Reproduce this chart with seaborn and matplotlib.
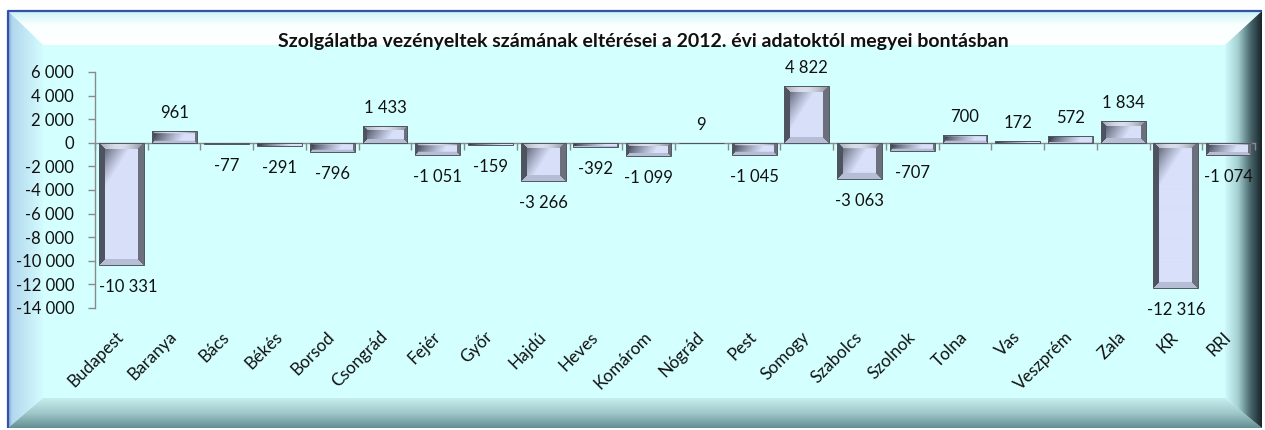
import numpy as np
import pandas as pd
import matplotlib
matplotlib.use("Agg")
import matplotlib.pyplot as plt
import seaborn as sns
from matplotlib.patches import Polygon, Rectangle
from matplotlib.ticker import FuncFormatter

# --- data ---------------------------------------------------------------
counties = ["Budapest", "Baranya", "Bács", "Békés", "Borsod", "Csongrád",
            "Fejér", "Győr", "Hajdú", "Heves", "Komárom", "Nógrád", "Pest",
            "Somogy", "Szabolcs", "Szolnok", "Tolna", "Vas", "Veszprém",
            "Zala", "KR", "RRI"]
differences = [-10331, 961, -77, -291, -796, 1433, -1051, -159, -3266, -392,
               -1099, 9, -1045, 4822, -3063, -707, 700, 172, 572, 1834,
               -12316, -1074]
y_ticks = [-14000, -12000, -10000, -8000, -6000, -4000, -2000, 0,
           2000, 4000, 6000]
title = ("Szolgálatba vezényeltek számának eltérései a 2012. évi adatoktól "
         "megyei bontásban")

df = pd.DataFrame({"megye": counties, "elteres": differences})


def fmt(v):
    return f"{int(v):,}".replace(",", " ")


sns.set_theme(style="white")
plt.rcParams["font.family"] = ["Lato", "DejaVu Sans"]

W, H = 1265, 430
fig = plt.figure(figsize=(W / 100, H / 100), dpi=100)
fig.patch.set_facecolor("white")

# --- bevelled frame drawn in pixel coordinates ---------------------------
bg = fig.add_axes([0, 0, 1, 1], zorder=0)
bg.axis("off")


def gradient_poly(axis, pts, stops, direction, extent):
    poly = Polygon(pts, closed=True, facecolor="none", edgecolor="none")
    axis.add_patch(poly)
    t = np.linspace(0, 1, 256)
    pos = [s[0] for s in stops]
    cols = np.stack([np.interp(t, pos, [s[1][k] for s in stops])
                     for k in range(3)], axis=-1) / 255.0
    img = cols[:, None, :] if direction == "v" else cols[None, :, :]
    im = axis.imshow(img, extent=extent, origin="upper", aspect="auto",
                     interpolation="bilinear", zorder=2)
    im.set_clip_path(poly)


ox0, oy0, ox1, oy1 = 8, 11, 1262, 428
ix0, iy0, ix1, iy1 = 43, 45, 1225, 398

bg.add_patch(Rectangle((ox0, oy0), ox1 - ox0, oy1 - oy0,
                       facecolor="#D4FFFF", edgecolor="none", zorder=1))
# top
gradient_poly(bg, [(ox0, oy0), (ox1, oy0), (ix1, iy0), (ix0, iy0)],
              [(0, (200, 242, 244)), (0.4, (250, 255, 255)), (1, (255, 255, 255))],
              "v", (ox0, ox1, iy0, oy0))
# left
gradient_poly(bg, [(ox0, oy0), (ix0, iy0), (ix0, iy1), (ox0, oy1)],
              [(0, (125, 165, 218)), (0.12, (178, 216, 238)), (1, (212, 252, 254))],
              "h", (ox0, ix0, oy1, oy0))
# bottom
gradient_poly(bg, [(ox0, oy1), (ix0, iy1), (ix1, iy1), (ox1, oy1)],
              [(0, (198, 238, 238)), (0.5, (160, 200, 202)), (1, (100, 142, 146))],
              "v", (ox0, ox1, oy1, iy1))
# right
gradient_poly(bg, [(ox1, oy0), (ix1, iy0), (ix1, iy1), (ox1, oy1)],
              [(0, (208, 250, 252)), (0.35, (165, 208, 210)), (0.7, (70, 100, 106)),
               (1, (24, 36, 40))],
              "h", (ix1, ox1, oy1, oy0))
bg.plot([ox0, ox0, ox1], [oy1, oy0, oy0], color="#3550A8", lw=1.6,
        solid_capstyle="butt", zorder=3)
bg.set_xlim(0, W)
bg.set_ylim(H, 0)

# --- bar chart ----------------------------------------------------------
ax = fig.add_axes([95 / W, 1 - 308 / H, (1255 - 95) / W, (308 - 72) / H],
                  zorder=1)
ax.set_facecolor("none")
sns.barplot(data=df, x="megye", y="elteres", ax=ax, color="#b4bcd4",
            width=0.85, saturation=1, edgecolor="#50565f", linewidth=0.7)
ax.set_xlim(-0.5, len(counties) - 0.5)
ax.set_ylim(y_ticks[0], y_ticks[-1])


def bar_image(wp, hp):
    """Metallic bevelled fill for one bar, wp x hp pixels."""
    wp = max(int(round(wp)), 2)
    hp = max(int(round(hp)), 2)
    yy, xx = np.mgrid[0:hp, 0:wp]
    u = (xx + 0.5) / wp
    vs = np.clip((yy + 0.5) / wp, 0, 1)
    dark = np.array([62, 68, 82], float)
    light = np.array([216, 224, 250], float)
    t = np.clip(1.5 * u + 0.95 * vs - 0.15, 0, 1) ** 0.8
    img = dark + (light - dark) * t[..., None]
    b = min(6, wp // 4, hp // 4)
    if b >= 1:
        d_top, d_bot = yy, hp - 1 - yy
        d_left, d_right = xx, wp - 1 - xx
        dmin = np.minimum.reduce([d_top, d_bot, d_left, d_right])
        band = dmin < b
        top_c = (np.array([156, 160, 172])[None, None, :]
                 + np.array([62, 62, 62])[None, None, :]
                 * np.sin(np.pi * np.clip(u * 1.1, 0, 1))[..., None])
        shape = img.shape
        sides = [
            (d_top, np.broadcast_to(top_c, shape)),
            (d_bot, np.broadcast_to(np.array([182, 190, 214], float), shape)),
            (d_left, np.broadcast_to(np.array([78, 83, 96], float), shape)),
            (d_right, np.broadcast_to(np.array([108, 112, 124], float), shape)),
        ]
        for d, col in sides:
            m = band & (d == dmin)
            img[m] = col[m]
    return np.clip(img / 255.0, 0, 1)


px_per_x = ax.transData.transform((1, 0))[0] - ax.transData.transform((0, 0))[0]
px_per_y = ax.transData.transform((0, 1))[1] - ax.transData.transform((0, 0))[1]

for i, (patch, val) in enumerate(zip(ax.patches, differences)):
    x0 = patch.get_x()
    w = patch.get_width()
    y_lo = min(0, val)
    y_hi = max(0, val)
    img = bar_image(w * px_per_x, (y_hi - y_lo) * px_per_y)
    im = ax.imshow(img, extent=(x0, x0 + w, y_lo, y_hi), origin="upper",
                   aspect="auto", interpolation="bilinear", zorder=2)
    im.set_clip_path(patch)
    patch.set_facecolor("none")
    patch.set_zorder(3)
    # the first label is nudged clear of the value axis
    dx = 7 if i == 0 else 0
    ax.annotate(fmt(val), xy=(x0 + w / 2, val),
                xytext=(dx, 18 if val >= 0 else -22), textcoords="offset pixels",
                ha="center", va="center", fontsize=12, color="#111111")

ax.set_xlim(-0.5, len(counties) - 0.5)
ax.set_ylim(y_ticks[0], y_ticks[-1])

grey = "#8a8a8a"
for s in ("top", "right", "bottom"):
    ax.spines[s].set_visible(False)
ax.spines["left"].set_color(grey)
ax.spines["left"].set_linewidth(1.0)

ax.set_yticks(y_ticks)
ax.yaxis.set_major_formatter(FuncFormatter(lambda v, p: fmt(v)))
ax.tick_params(axis="y", direction="out", length=5, width=1, color=grey,
               pad=10, labelsize=12, labelcolor="#111111", left=True)
ax.tick_params(axis="x", length=0, pad=19, labelsize=12.3,
               labelcolor="#111111")
for lab in ax.get_xticklabels():
    lab.set_rotation(45)
    lab.set_ha("right")
    lab.set_va("center")
    lab.set_rotation_mode("anchor")
ax.set_xlabel("")
ax.set_ylabel("")
ax.grid(False)

# zero line carrying the category boundary ticks
zero_pos = (0 - y_ticks[0]) / (y_ticks[-1] - y_ticks[0])
sec = ax.secondary_xaxis(zero_pos)
sec.set_alignment("bottom")
sec.set_xticks(np.arange(len(counties) + 1) - 0.5)
sec.set_xticklabels([])
sec.tick_params(direction="out", length=5, width=1, color=grey)
sec.spines["bottom"].set_color(grey)
sec.spines["bottom"].set_linewidth(1.0)

fig.text(643 / W, 1 - 42 / H, title, ha="center", va="center",
         fontsize=14, fontweight="bold", color="#111111")

fig.savefig("out.png", dpi=100)
